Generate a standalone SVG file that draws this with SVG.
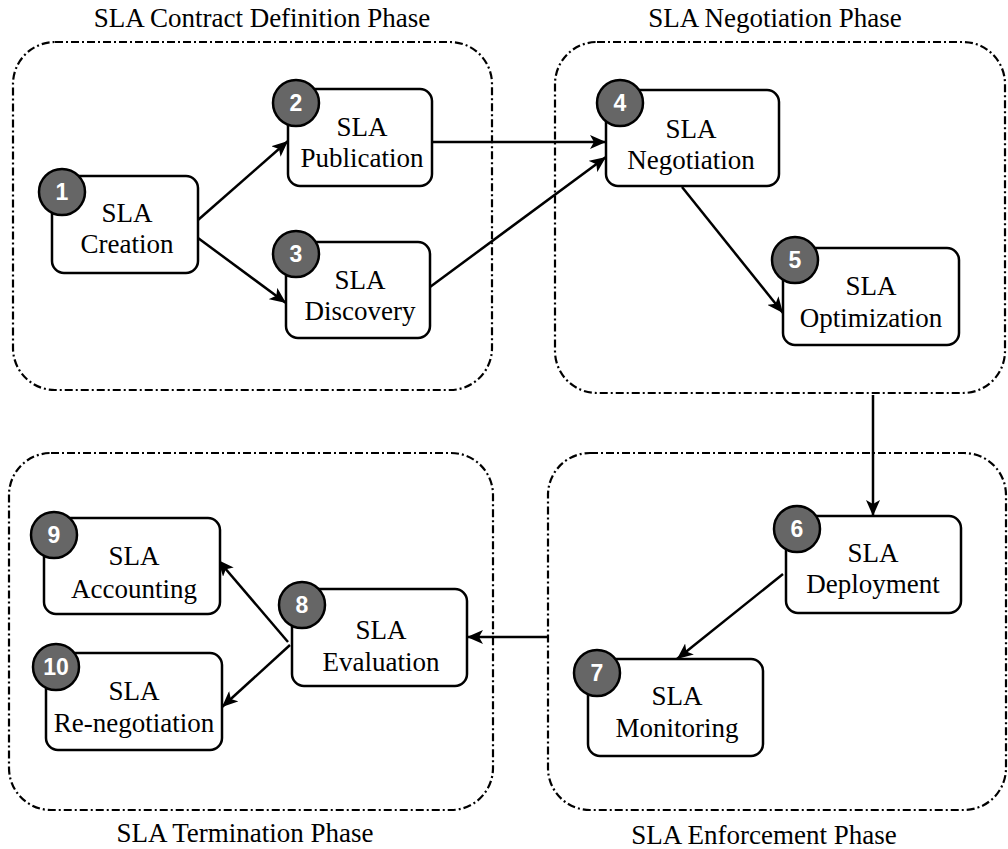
<svg xmlns="http://www.w3.org/2000/svg" width="1008" height="849" viewBox="0 0 1008 849">
<style>
.phase{fill:none;stroke:#000;stroke-width:2.2;stroke-dasharray:8 3 2 3}
.ptitle{font-family:"Liberation Serif","Times New Roman",serif;font-size:27px;fill:#000;text-anchor:middle}
.box{fill:#fff;stroke:#000;stroke-width:2.5}
.lbl{font-family:"Liberation Serif","Times New Roman",serif;font-size:27px;fill:#000;text-anchor:middle}
.badge{fill:#666;stroke:#000;stroke-width:2.5}
.num{font-family:"Liberation Sans",Arial,sans-serif;font-weight:bold;font-size:23px;fill:#fff;text-anchor:middle}
.conn{fill:none;stroke:#000;stroke-width:2.5;marker-end:url(#arr)}
</style>
<defs>
<marker id="arr" markerUnits="userSpaceOnUse" markerWidth="18" markerHeight="14" refX="16" refY="7" orient="auto">
<path d="M0,0 L16,7 L0,14 L4,7 Z" fill="#000"/>
</marker>
</defs>
<rect width="1008" height="849" fill="#fff"/>
<g id="phases">
<g id="phase-contract">
<rect class="phase" x="13" y="42" width="479" height="348" rx="42"/>
<text class="ptitle" x="262" y="27">SLA Contract Definition Phase</text>
</g>
<g id="phase-negotiation">
<rect class="phase" x="555" y="42" width="450" height="351" rx="42"/>
<text class="ptitle" x="775" y="27">SLA Negotiation Phase</text>
</g>
<g id="phase-termination">
<rect class="phase" x="9" y="453" width="484" height="357" rx="42"/>
<text class="ptitle" x="245" y="842">SLA Termination Phase</text>
</g>
<g id="phase-enforcement">
<rect class="phase" x="548" y="453" width="458" height="357" rx="42"/>
<text class="ptitle" x="764" y="844">SLA Enforcement Phase</text>
</g>
</g>
<g id="connectors">
<line class="conn" x1="198" y1="220" x2="288" y2="141"/>
<line class="conn" x1="198" y1="238" x2="286" y2="303"/>
<line class="conn" x1="433" y1="142" x2="606" y2="142"/>
<line class="conn" x1="430" y1="287" x2="606" y2="157"/>
<line class="conn" x1="682" y1="187" x2="783" y2="313"/>
<line class="conn" x1="873" y1="395" x2="873" y2="516"/>
<line class="conn" x1="783" y1="574" x2="677" y2="659"/>
<line class="conn" x1="548" y1="637" x2="467" y2="637"/>
<line class="conn" x1="288" y1="642" x2="218" y2="560"/>
<line class="conn" x1="290" y1="645" x2="222" y2="707"/>
</g>
<g id="node1">
<rect class="box" x="52" y="176" width="146" height="97" rx="12"/>
<text class="lbl" x="127" y="222">SLA</text>
<text class="lbl" x="127" y="253">Creation</text>
<circle class="badge" cx="62" cy="192" r="23"/>
<text class="num" x="62" y="200">1</text>
</g>
<g id="node2">
<rect class="box" x="288" y="89" width="144" height="97" rx="12"/>
<text class="lbl" x="362" y="136">SLA</text>
<text class="lbl" x="362" y="167">Publication</text>
<circle class="badge" cx="296" cy="103" r="23"/>
<text class="num" x="296" y="111">2</text>
</g>
<g id="node3">
<rect class="box" x="286" y="242" width="144" height="96" rx="12"/>
<text class="lbl" x="360" y="289">SLA</text>
<text class="lbl" x="360" y="320">Discovery</text>
<circle class="badge" cx="296" cy="254" r="23"/>
<text class="num" x="296" y="262">3</text>
</g>
<g id="node4">
<rect class="box" x="606" y="90" width="173" height="96" rx="12"/>
<text class="lbl" x="691" y="138">SLA</text>
<text class="lbl" x="691" y="169">Negotiation</text>
<circle class="badge" cx="620" cy="103" r="23"/>
<text class="num" x="620" y="111">4</text>
</g>
<g id="node5">
<rect class="box" x="783" y="248" width="176" height="97" rx="12"/>
<text class="lbl" x="871" y="295">SLA</text>
<text class="lbl" x="871" y="327">Optimization</text>
<circle class="badge" cx="795" cy="260" r="23"/>
<text class="num" x="795" y="268">5</text>
</g>
<g id="node6">
<rect class="box" x="786" y="516" width="175" height="97" rx="12"/>
<text class="lbl" x="873" y="562">SLA</text>
<text class="lbl" x="873" y="593">Deployment</text>
<circle class="badge" cx="797" cy="529" r="23"/>
<text class="num" x="797" y="537">6</text>
</g>
<g id="node7">
<rect class="box" x="588" y="659" width="175" height="97" rx="12"/>
<text class="lbl" x="677" y="705">SLA</text>
<text class="lbl" x="677" y="737">Monitoring</text>
<circle class="badge" cx="597" cy="673" r="23"/>
<text class="num" x="597" y="681">7</text>
</g>
<g id="node8">
<rect class="box" x="292" y="589" width="175" height="97" rx="12"/>
<text class="lbl" x="381" y="639">SLA</text>
<text class="lbl" x="381" y="671">Evaluation</text>
<circle class="badge" cx="302" cy="605" r="23"/>
<text class="num" x="302" y="613">8</text>
</g>
<g id="node9">
<rect class="box" x="44" y="518" width="176" height="96" rx="12"/>
<text class="lbl" x="134" y="565">SLA</text>
<text class="lbl" x="134" y="598">Accounting</text>
<circle class="badge" cx="54" cy="535" r="23"/>
<text class="num" x="54" y="543">9</text>
</g>
<g id="node10">
<rect class="box" x="46" y="653" width="176" height="97" rx="12"/>
<text class="lbl" x="134" y="700">SLA</text>
<text class="lbl" x="134" y="732">Re-negotiation</text>
<circle class="badge" cx="56" cy="667" r="23"/>
<text class="num" x="56" y="675">10</text>
</g>
</svg>
